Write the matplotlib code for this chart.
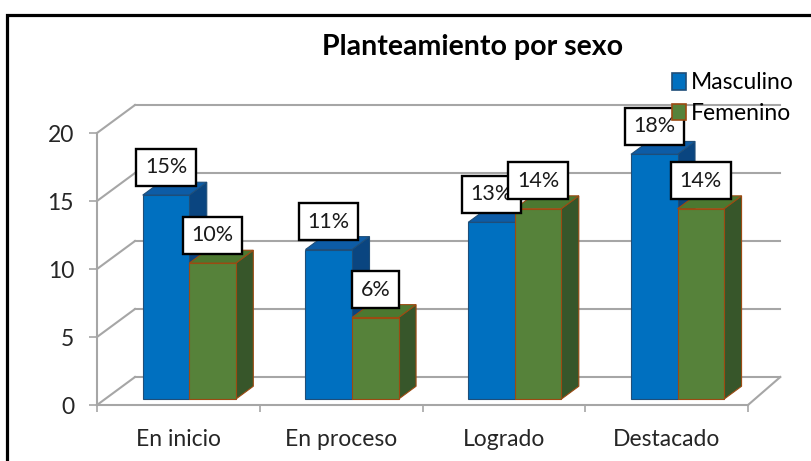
import matplotlib
matplotlib.use("Agg")
from matplotlib import pyplot as plt
from matplotlib.patches import Rectangle, Polygon, Patch
import numpy as np

plt.rcParams['font.family'] = ['Lato', 'DejaVu Sans']

# data
categories = ['En inicio', 'En proceso', 'Logrado', 'Destacado']
masculino = [15, 11, 13, 18]
femenino = [10, 6, 14, 14]
series_names = ['Masculino', 'Femenino']

front_cols = ['#0070C0', '#56823A']
top_cols = ['#0D5CA6', '#4C7830']
side_cols = ['#0A4580', '#37562A']
edge_cols = ['#1F4E79', '#9C4A12']

W, H = 811, 461
fig = plt.figure(figsize=(W / 100, H / 100), dpi=100)
fig.patch.set_facecolor('white')

# outer black frame (cut off on the right / bottom)
fig.patches.append(Rectangle((7 / W, -0.5), 2, 1 - 15.5 / H + 0.5,
                             transform=fig.transFigure, fill=False,
                             lw=2.3, ec='black'))

ax = fig.add_axes([97 / W, 56 / H, (748 - 97) / W, 272 / H])
ax.set_facecolor('none')
ax.set_xlim(-0.5, 3.5)
ax.set_ylim(0, 20)

# depth of the fake 3d box, in data units
ddx = 38 / (651 / 4)
ddy = 28 / 13.6
grid_c = '#A6A6A6'

yticks = [0, 5, 10, 15, 20]
for v in yticks:
    # left wall
    ax.plot([-0.5, -0.5 + ddx], [v, v + ddy], color=grid_c, lw=1.5,
            clip_on=False, zorder=1)
    # back wall
    ax.plot([-0.5 + ddx, 3.5 + ddx * 0.85], [v + ddy, v + ddy], color=grid_c,
            lw=1.5, clip_on=False, zorder=1)
# floor right edge
ax.plot([3.5, 3.5 + ddx * 0.85], [0, ddy], color=grid_c, lw=1.5,
        clip_on=False, zorder=1)

# bars
w = 0.286
f = 0.21   # front face position inside the depth
d = 0.46   # bar depth
shift = 0.018
x = np.arange(len(categories))
for s, vals in enumerate([masculino, femenino]):
    for i, v in enumerate(vals):
        x0 = x[i] - w + s * w + f * ddx + shift
        y0 = f * ddy
        bx, by = d * ddx, d * ddy
        ax.add_patch(Polygon([(x0 + w, y0), (x0 + w + bx, y0 + by),
                              (x0 + w + bx, y0 + v + by), (x0 + w, y0 + v)],
                             closed=True, fc=side_cols[s], ec=edge_cols[s],
                             lw=0.8, clip_on=False, zorder=2 + s))
        ax.add_patch(Polygon([(x0, y0 + v), (x0 + w, y0 + v),
                              (x0 + w + bx, y0 + v + by), (x0 + bx, y0 + v + by)],
                             closed=True, fc=top_cols[s], ec=edge_cols[s],
                             lw=0.8, clip_on=False, zorder=2 + s))
        ax.add_patch(Rectangle((x0, y0), w, v, fc=front_cols[s],
                               ec=edge_cols[s], lw=0.8, clip_on=False,
                               zorder=2 + s))
        ax.text(x0 + w / 2, y0 + v + ddy, f"{v}%", ha='center', va='center',
                fontsize=15.5, color='#1a1a1a', zorder=6, clip_on=False,
                bbox=dict(boxstyle='square,pad=0.4', fc='white', ec='black',
                          lw=1.7))

# axes styling
for sp in ['top', 'right']:
    ax.spines[sp].set_visible(False)
for sp in ['left', 'bottom']:
    ax.spines[sp].set_color(grid_c)
    ax.spines[sp].set_linewidth(1.5)

ax.set_yticks(yticks)
ax.set_yticklabels([str(v) for v in yticks], fontsize=16.5, color='#262626')
ax.tick_params(axis='y', length=5.5, width=1.2, color=grid_c, pad=11)
ax.set_xticks(x)
ax.set_xticklabels(categories, fontsize=16.5, color='#262626')
ax.set_xticks(np.arange(-0.5, 4, 1), minor=True)
ax.tick_params(axis='x', which='major', length=0, pad=17)
ax.tick_params(axis='x', which='minor', length=5, width=1.2, color=grid_c)

fig.text(473 / W, 1 - 47 / H, 'Planteamiento por sexo', ha='center',
         va='center', fontsize=20.5, fontweight='bold', color='black')

handles = [Patch(fc=front_cols[s], ec=edge_cols[s], lw=1.2) for s in range(2)]
leg = fig.legend(handles, series_names, loc='upper left',
                 bbox_to_anchor=(661 / W, 1 - 66.5 / H), frameon=False,
                 fontsize=16.5, handlelength=0.6, handleheight=0.75,
                 handletextpad=0.2, labelspacing=0.42, borderpad=0)
leg.set_zorder(10)
leg.set_bbox_to_anchor((661 / W, 1 - 61 / H), transform=fig.transFigure)

plt.savefig("out.png", dpi=100)
